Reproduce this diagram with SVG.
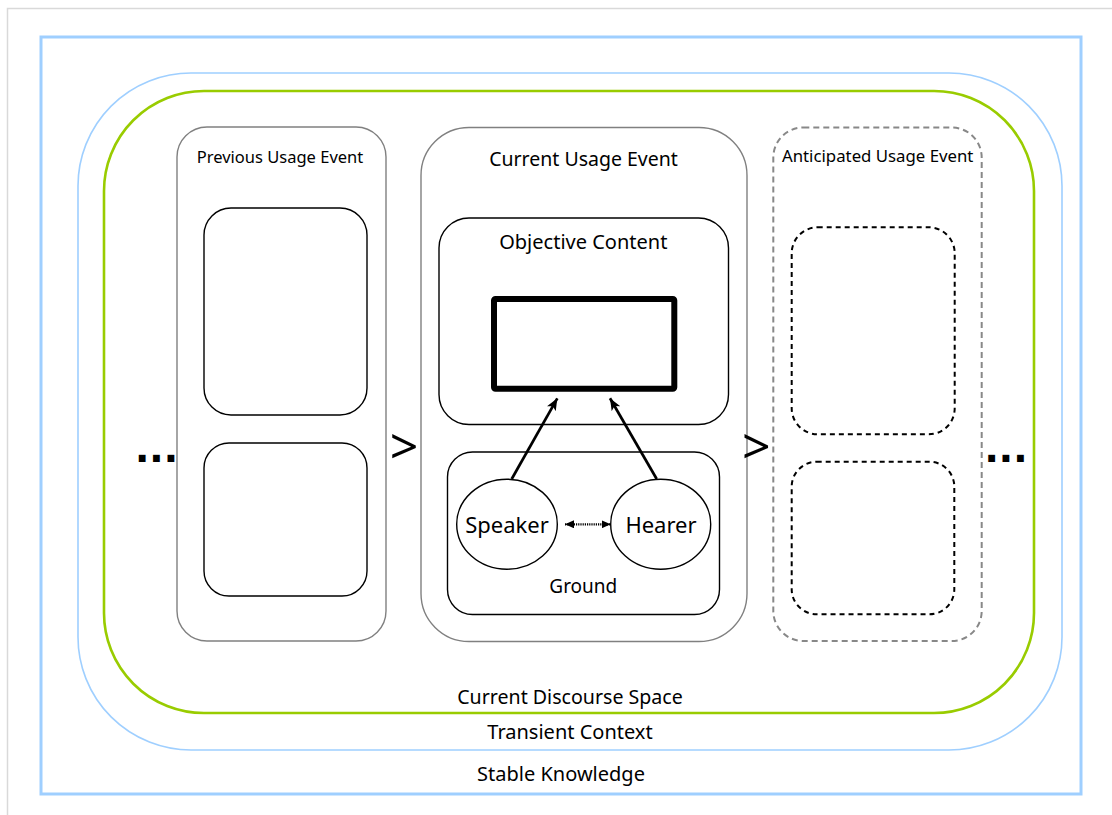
<svg xmlns="http://www.w3.org/2000/svg" width="1112" height="815" viewBox="0 0 1112 815">
<style>
  text { font-family: "Noto Sans", "Open Sans", sans-serif; fill: #000; }
  .lbl { text-anchor: middle; }
  .frame { fill: none; stroke: #d9d9d9; stroke-width: 1.5; }
  .stable { fill: none; stroke: #9fcfff; stroke-width: 3; }
  .transient { fill: none; stroke: #9fcfff; stroke-width: 1.6; }
  .cds { fill: none; stroke: #99cc00; stroke-width: 2.6; }
  .event { fill: none; stroke: #808080; stroke-width: 1.4; }
  .event-dash { fill: none; stroke: #888888; stroke-width: 2; stroke-dasharray: 6 4; }
  .box { fill: none; stroke: #000; stroke-width: 1.4; }
  .box-dash { fill: none; stroke: #000; stroke-width: 2; stroke-dasharray: 5 4; }
  .profile { fill: none; stroke: #000; stroke-width: 6; }
  .conn { fill: none; stroke: #000; stroke-width: 2.7; }
  .conn-dot { fill: none; stroke: #000; stroke-width: 2.2; stroke-dasharray: 1.2 1; }
  .sym { font-size: 50px; }
  .dots { font-family: "Liberation Sans", Arial, sans-serif; font-weight: bold; font-size: 48px; letter-spacing: 1px; }
</style>
<defs>
  <marker id="arrow" viewBox="0 0 12 10" refX="12" refY="5" markerWidth="12" markerHeight="10" markerUnits="userSpaceOnUse" orient="auto">
    <path d="M0,0 L12,5 L0,10 L3,5 z" fill="#000"/>
  </marker>
  <marker id="arrow-s" viewBox="0 0 9 8" refX="9" refY="4" markerWidth="9" markerHeight="8" markerUnits="userSpaceOnUse" orient="auto-start-reverse">
    <path d="M0,0 L9,4 L0,8 z" fill="#000"/>
  </marker>
</defs>
<rect width="1112" height="815" fill="#fff"/>
<rect class="frame" x="7.5" y="8.5" width="1200" height="900"/>

<g id="stable-knowledge">
  <rect class="stable" x="41" y="37" width="1040" height="757"/>
  <text class="lbl" x="561" y="781" font-size="20">Stable Knowledge</text>
</g>
<g id="transient-context">
  <rect class="transient" x="78" y="73" width="984" height="677" rx="113" ry="113"/>
  <text class="lbl" x="570" y="739" font-size="20">Transient Context</text>
</g>
<g id="current-discourse-space">
  <rect class="cds" x="104" y="91" width="930" height="622" rx="100" ry="100"/>
  <text class="lbl" x="570" y="704" font-size="19.6">Current Discourse Space</text>
</g>

<g id="previous-usage-event">
  <rect class="event" x="177" y="127" width="209" height="514" rx="30" ry="30"/>
  <text class="lbl" x="280" y="162.7" font-size="16.5">Previous Usage Event</text>
  <rect class="box" x="204" y="208" width="163" height="207" rx="27" ry="27"/>
  <rect class="box" x="204" y="443" width="163" height="153" rx="25" ry="25"/>
</g>

<g id="current-usage-event">
  <rect class="event" x="421" y="127.5" width="326" height="514" rx="48" ry="48"/>
  <text class="lbl" x="583.5" y="165.7" font-size="19.5">Current Usage Event</text>
</g>
<g id="objective-content">
  <rect class="box" x="439" y="218" width="289.5" height="206.5" rx="30" ry="30"/>
  <text class="lbl" x="583.3" y="249" font-size="20">Objective Content</text>
</g>
<g id="profiled-entity">
  <rect class="profile" x="494" y="299" width="180.3" height="89.7" rx="1.5" ry="1.5"/>
</g>
<g id="ground">
  <rect class="box" x="447.5" y="452" width="272" height="162.5" rx="25" ry="25"/>
  <text class="lbl" x="583.3" y="592.7" font-size="19">Ground</text>
</g>
<g id="speaker">
  <ellipse class="box" cx="507" cy="524.2" rx="50.3" ry="45"/>
  <text class="lbl" x="507" y="532.7" font-size="22">Speaker</text>
</g>
<g id="hearer">
  <ellipse class="box" cx="660.7" cy="524.2" rx="50" ry="45"/>
  <text class="lbl" x="661" y="532.7" font-size="22">Hearer</text>
</g>

<g id="anticipated-usage-event">
  <rect class="event-dash" x="773.3" y="127.5" width="208.4" height="513.5" rx="30" ry="30"/>
  <text class="lbl" x="877.7" y="161.7" font-size="16.8">Anticipated Usage Event</text>
  <rect class="box-dash" x="791.7" y="227.3" width="163" height="207" rx="26" ry="26"/>
  <rect class="box-dash" x="791.7" y="461.7" width="162.6" height="152.6" rx="25" ry="25"/>
</g>

<g id="sequence-marks">
  <text class="dots" x="135.5" y="462">...</text>
  <text class="sym" x="389.8" y="464">&gt;</text>
  <text class="sym" x="742.1" y="464">&gt;</text>
  <text class="dots" x="985" y="462">...</text>
</g>

<g id="connectors">
  <line class="conn" x1="511.7" y1="479" x2="557.3" y2="398.3" marker-end="url(#arrow)"/>
  <line class="conn" x1="656.7" y1="479" x2="610" y2="398.3" marker-end="url(#arrow)"/>
  <line class="conn-dot" x1="565" y1="524.3" x2="610.7" y2="524.3" marker-start="url(#arrow-s)" marker-end="url(#arrow-s)"/>
</g>
</svg>
